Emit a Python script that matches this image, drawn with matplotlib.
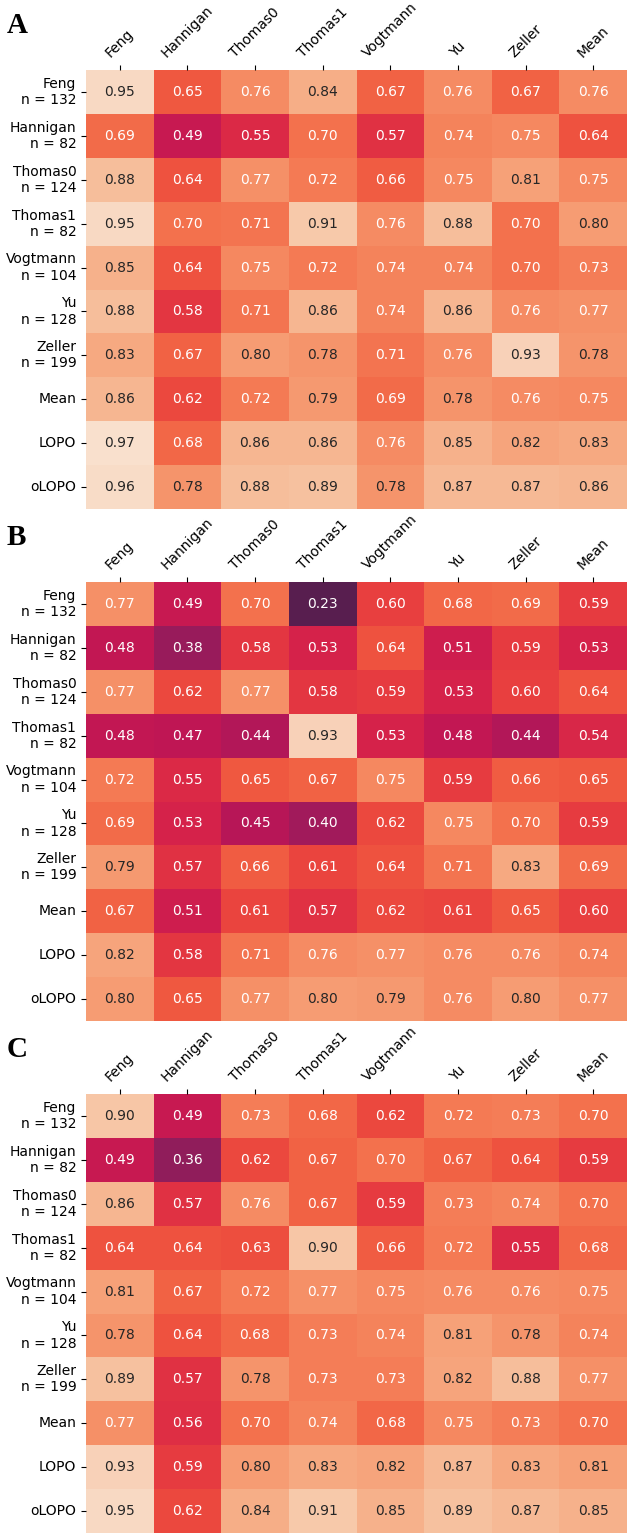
import numpy as np
import pandas as pd
import matplotlib
matplotlib.use("Agg")
import matplotlib.pyplot as plt
import seaborn as sns

# column / row labels
cols = ["Feng", "Hannigan", "Thomas0", "Thomas1", "Vogtmann", "Yu", "Zeller", "Mean"]
rows = ["Feng\nn = 132", "Hannigan\nn = 82", "Thomas0\nn = 124", "Thomas1\nn = 82",
        "Vogtmann\nn = 104", "Yu\nn = 128", "Zeller\nn = 199", "Mean", "LOPO", "oLOPO"]

# panel A
vals_a = [
    [0.95, 0.65, 0.76, 0.84, 0.67, 0.76, 0.67, 0.76],
    [0.69, 0.49, 0.55, 0.70, 0.57, 0.74, 0.75, 0.64],
    [0.88, 0.64, 0.77, 0.72, 0.66, 0.75, 0.81, 0.75],
    [0.95, 0.70, 0.71, 0.91, 0.76, 0.88, 0.70, 0.80],
    [0.85, 0.64, 0.75, 0.72, 0.74, 0.74, 0.70, 0.73],
    [0.88, 0.58, 0.71, 0.86, 0.74, 0.86, 0.76, 0.77],
    [0.83, 0.67, 0.80, 0.78, 0.71, 0.76, 0.93, 0.78],
    [0.86, 0.62, 0.72, 0.79, 0.69, 0.78, 0.76, 0.75],
    [0.97, 0.68, 0.86, 0.86, 0.76, 0.85, 0.82, 0.83],
    [0.96, 0.78, 0.88, 0.89, 0.78, 0.87, 0.87, 0.86],
]

# panel B
vals_b = [
    [0.77, 0.49, 0.70, 0.23, 0.60, 0.68, 0.69, 0.59],
    [0.48, 0.38, 0.58, 0.53, 0.64, 0.51, 0.59, 0.53],
    [0.77, 0.62, 0.77, 0.58, 0.59, 0.53, 0.60, 0.64],
    [0.48, 0.47, 0.44, 0.93, 0.53, 0.48, 0.44, 0.54],
    [0.72, 0.55, 0.65, 0.67, 0.75, 0.59, 0.66, 0.65],
    [0.69, 0.53, 0.45, 0.40, 0.62, 0.75, 0.70, 0.59],
    [0.79, 0.57, 0.66, 0.61, 0.64, 0.71, 0.83, 0.69],
    [0.67, 0.51, 0.61, 0.57, 0.62, 0.61, 0.65, 0.60],
    [0.82, 0.58, 0.71, 0.76, 0.77, 0.76, 0.76, 0.74],
    [0.80, 0.65, 0.77, 0.80, 0.79, 0.76, 0.80, 0.77],
]

# panel C
vals_c = [
    [0.90, 0.49, 0.73, 0.68, 0.62, 0.72, 0.73, 0.70],
    [0.49, 0.36, 0.62, 0.67, 0.70, 0.67, 0.64, 0.59],
    [0.86, 0.57, 0.76, 0.67, 0.59, 0.73, 0.74, 0.70],
    [0.64, 0.64, 0.63, 0.90, 0.66, 0.72, 0.55, 0.68],
    [0.81, 0.67, 0.72, 0.77, 0.75, 0.76, 0.76, 0.75],
    [0.78, 0.64, 0.68, 0.73, 0.74, 0.81, 0.78, 0.74],
    [0.89, 0.57, 0.78, 0.73, 0.73, 0.82, 0.88, 0.77],
    [0.77, 0.56, 0.70, 0.74, 0.68, 0.75, 0.73, 0.70],
    [0.93, 0.59, 0.80, 0.83, 0.82, 0.87, 0.83, 0.81],
    [0.95, 0.62, 0.84, 0.91, 0.85, 0.89, 0.87, 0.85],
]

panels = [("A", vals_a), ("B", vals_b), ("C", vals_c)]

W, H = 629, 1535
fig = plt.figure(figsize=(W / 100, H / 100), dpi=100)

# pixel tops of each heatmap
tops = [70, 582, 1094]
left, width, height = 86, 541, 439
fs = 10

for (letter, vals), top in zip(panels, tops):
    ax = fig.add_axes([left / W, (H - top - height) / H, width / W, height / H])
    df = pd.DataFrame(vals, index=rows, columns=cols)
    sns.heatmap(df, ax=ax, cmap="rocket", vmin=0, vmax=1, annot=True, fmt=".2f",
                cbar=False, annot_kws={"fontsize": fs})
    ax.xaxis.tick_top()
    ax.set_xticklabels(cols, rotation=45, fontsize=fs)
    ax.set_yticklabels(rows, rotation=0, fontsize=fs)
    # panel letter
    fig.text(7 / W, (H - top + 37) / H, letter, fontsize=21, fontweight="bold",
             family="Liberation Serif", va="baseline", ha="left")

fig.savefig("out.png", dpi=100)
